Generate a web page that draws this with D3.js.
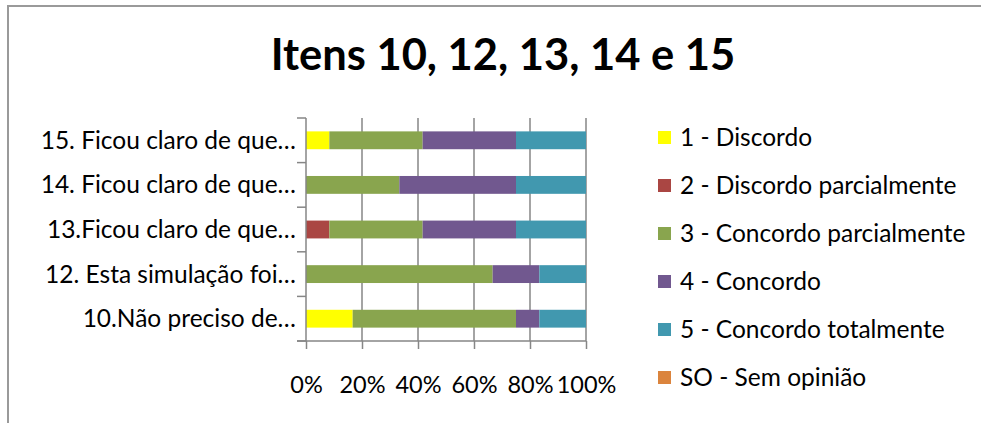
<!DOCTYPE html>
<html>
<head>
<meta charset="utf-8">
<script src="https://d3js.org/d3.v7.min.js"></script>
<style>
    body { margin: 0; background: #fff; }
    svg text { font-family: Lato, "Open Sans", sans-serif; fill: #000; }
</style>
</head>
<body>
<div id="chart"></div>
<script>

    // categories, top to bottom as drawn
    var categories = [
        "15. Ficou claro de que…",
        "14. Ficou claro de que…",
        "13.Ficou claro de que…",
        "12. Esta simulação foi…",
        "10.Não preciso de…"
    ];

    // series names for the legend
    var seriesNames = [
        "1 - Discordo",
        "2 - Discordo parcialmente",
        "3 - Concordo parcialmente",
        "4 - Concordo",
        "5 - Concordo totalmente",
        "SO - Sem opinião"
    ];

    var seriesColours = ["#ffff00", "#aa4643", "#89a54e", "#71588f", "#4198af", "#db843d"];

    // answer counts per series (one value per category, same order)
    var discordo = [1, 0, 0, 0, 2];
    var discordoParcial = [0, 0, 1, 0, 0];
    var concordoParcial = [4, 4, 4, 8, 7];
    var concordo = [4, 5, 4, 2, 1];
    var concordoTotal = [3, 3, 3, 2, 2];
    var semOpiniao = [0, 0, 0, 0, 0];

    var xTicks = [0, 0.2, 0.4, 0.6, 0.8, 1];

    var title = "Itens 10, 12, 13, 14 e 15";


    var width = 981;
    var height = 423;
    var axisGrey = "#868686";

    var svg = d3.select("#chart")
        .append("svg")
        .attr("width", width)
        .attr("height", height);

    // chart border (right / bottom edges fall outside the picture)
    svg.append("rect")
        .attr("x", 8)
        .attr("y", 6)
        .attr("width", width + 20)
        .attr("height", height + 20)
        .attr("fill", "none")
        .attr("stroke", "#9a9a9a")
        .attr("stroke-width", 2);

    svg.append("text")
        .attr("x", 503)
        .attr("y", 70)
        .attr("text-anchor", "middle")
        .style("font-size", "43.5px")
        .style("font-weight", "bold")
        .text(title);


    // build rows: one object per category with its share for each series
    var seriesData = [discordo, discordoParcial, concordoParcial, concordo, concordoTotal, semOpiniao];
    var keys = d3.range(seriesNames.length);
    var rows = categories.map(function (c, i) {
        var total = d3.sum(seriesData, function (s) { return s[i]; });
        var row = { category: c };
        keys.forEach(function (k) { row[k] = seriesData[k][i] / total; });
        return row;
    });

    var stacked = d3.stack().keys(keys)(rows);

    // plot area edges
    var plotLeft = 306, plotRight = 586, plotTop = 118, plotBottom = 341;

    var x = d3.scaleLinear().domain([0, 1]).range([plotLeft, plotRight]);

    var y = d3.scaleBand()
        .domain(categories)
        .range([plotTop, plotBottom])
        .paddingInner(0.6)
        .paddingOuter(0.3);

    // category slots (no padding) for the y tick marks
    var ySlots = d3.scaleBand().domain(categories).range([plotTop, plotBottom]);

    // vertical gridlines
    svg.append("g")
        .selectAll("line")
        .data(xTicks.slice(1))
        .enter()
        .append("line")
        .attr("x1", function (d) { return x(d); })
        .attr("x2", function (d) { return x(d); })
        .attr("y1", plotTop)
        .attr("y2", plotBottom)
        .attr("stroke", axisGrey)
        .attr("stroke-width", 1.5);

    // bars
    svg.append("g")
        .selectAll("g")
        .data(stacked)
        .enter()
        .append("g")
        .attr("fill", function (d) { return seriesColours[d.key]; })
        .selectAll("rect")
        .data(function (d) { return d; })
        .enter()
        .append("rect")
        .attr("x", function (d) { return x(d[0]); })
        .attr("width", function (d) { return x(d[1]) - x(d[0]); })
        .attr("y", function (d) { return y(d.data.category); })
        .attr("height", y.bandwidth());

    // y axis line + outside ticks at category boundaries
    var yTickPos = categories.map(function (c) { return ySlots(c); }).concat([plotBottom]);
    svg.append("line")
        .attr("x1", plotLeft).attr("x2", plotLeft)
        .attr("y1", plotTop).attr("y2", plotBottom)
        .attr("stroke", axisGrey).attr("stroke-width", 1.5);
    svg.append("g")
        .selectAll("line")
        .data(yTickPos)
        .enter()
        .append("line")
        .attr("x1", plotLeft - 9)
        .attr("x2", plotLeft)
        .attr("y1", function (d) { return d; })
        .attr("y2", function (d) { return d; })
        .attr("stroke", axisGrey)
        .attr("stroke-width", 1.5);

    // category labels
    svg.append("g")
        .selectAll("text")
        .data(categories)
        .enter()
        .append("text")
        .attr("x", plotLeft - 10)
        .attr("y", function (d) { return y(d) + y.bandwidth() / 2; })
        .attr("dy", "0.35em")
        .attr("text-anchor", "end")
        .style("font-size", "24.5px")
        .text(function (d) { return d; });

    // x axis
    var xAxis = svg.append("g")
        .attr("transform", "translate(0," + plotBottom + ")")
        .call(d3.axisBottom(x)
            .tickValues(xTicks)
            .tickFormat(d3.format(".0%"))
            .tickSizeInner(8)
            .tickSizeOuter(0)
            .tickPadding(27));
    xAxis.select(".domain").remove();
    xAxis.selectAll("line").attr("stroke", axisGrey).attr("stroke-width", 1.5);
    xAxis.selectAll("text")
        .style("font-size", "23.5px")
        .style("font-family", "Lato, 'Open Sans', sans-serif")
        .attr("fill", "#000");
    svg.append("line")
        .attr("x1", plotLeft - 9).attr("x2", plotRight)
        .attr("y1", plotBottom).attr("y2", plotBottom)
        .attr("stroke", axisGrey).attr("stroke-width", 1.5);

    // legend
    var legend = svg.append("g").attr("class", "legend");
    var legendY = d3.scalePoint().domain(keys).range([137, 377]);
    var items = legend.selectAll("g")
        .data(keys)
        .enter()
        .append("g")
        .attr("transform", function (k) { return "translate(658," + legendY(k) + ")"; });
    items.append("rect")
        .attr("x", 0)
        .attr("y", -6)
        .attr("width", 13)
        .attr("height", 13)
        .attr("fill", function (k) { return seriesColours[k]; });
    items.append("text")
        .attr("x", 22)
        .attr("dy", "0.35em")
        .style("font-size", "24.5px")
        .text(function (k) { return seriesNames[k]; });

</script>
</body>
</html>
